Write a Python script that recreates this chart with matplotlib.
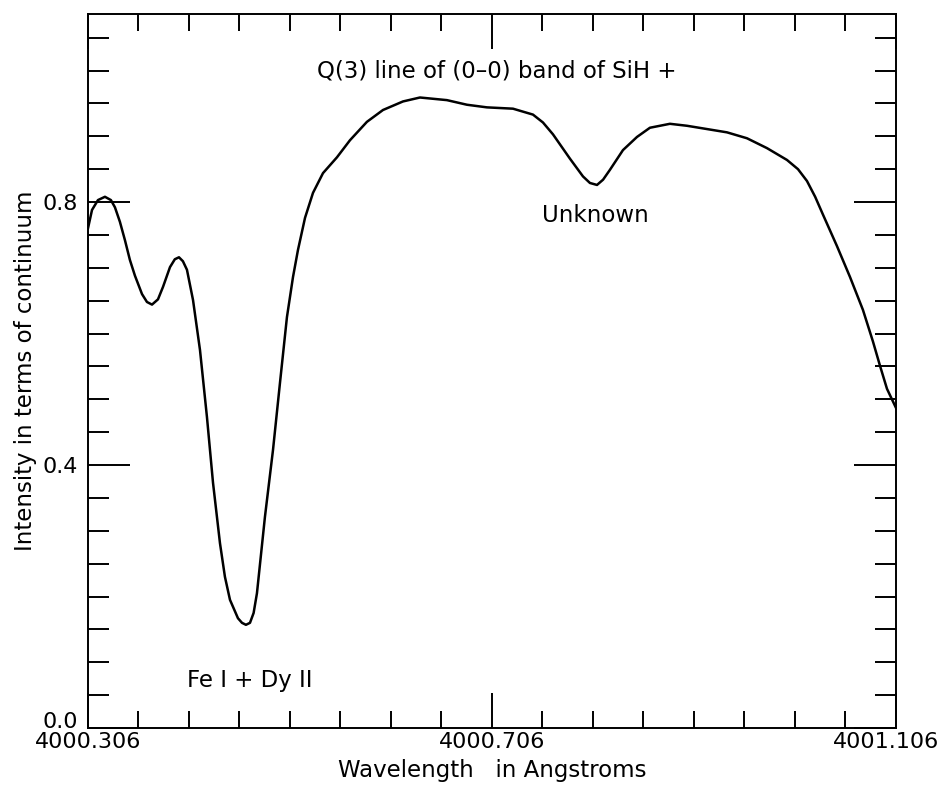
import numpy as np
import matplotlib
matplotlib.use("Agg")
import matplotlib.pyplot as plt
import matplotlib.transforms as mtransforms
from matplotlib.ticker import FixedLocator, FixedFormatter

# ── 数据 ────────────────────────────────────────
X0 = 4000.306
X1 = 4001.106
# 波长偏移 (Å, 相对 4000.306)
wl_offset = [
    0.0000, 0.0040, 0.0099, 0.0168, 0.0227, 0.0267, 0.0316, 0.0366, 0.0415,
    0.0465, 0.0535, 0.0584, 0.0634, 0.0693, 0.0743, 0.0812, 0.0860, 0.0901,
    0.0940, 0.0980, 0.1040, 0.1109, 0.1178, 0.1238, 0.1307, 0.1356, 0.1406,
    0.1485, 0.1525, 0.1564, 0.1604, 0.1640, 0.1673, 0.1752, 0.1832, 0.1901,
    0.1970, 0.2030, 0.2079, 0.2149, 0.2228, 0.2327, 0.2465, 0.2594, 0.2762,
    0.2921, 0.3119, 0.3287, 0.3554, 0.3752, 0.3950, 0.4208, 0.4406, 0.4505,
    0.4604, 0.4772, 0.4901, 0.4970, 0.5040, 0.5100, 0.5168, 0.5297, 0.5436,
    0.5564, 0.5762, 0.5931, 0.6129, 0.6327, 0.6525, 0.6723, 0.6921, 0.7030,
    0.7119, 0.7200, 0.7277, 0.7416, 0.7545, 0.7673, 0.7772, 0.7842, 0.7911,
    0.8000,
]
intensity = [
    0.760, 0.788, 0.803, 0.808, 0.803, 0.792, 0.770, 0.742, 0.712,
    0.688, 0.660, 0.648, 0.644, 0.652, 0.671, 0.701, 0.713, 0.716,
    0.710, 0.697, 0.651, 0.575, 0.473, 0.373, 0.281, 0.230, 0.195,
    0.167, 0.160, 0.157, 0.160, 0.175, 0.205, 0.321, 0.423, 0.525,
    0.625, 0.686, 0.727, 0.776, 0.814, 0.844, 0.868, 0.894, 0.922,
    0.940, 0.953, 0.959, 0.955, 0.948, 0.944, 0.942, 0.933, 0.921,
    0.903, 0.866, 0.839, 0.829, 0.826, 0.834, 0.849, 0.879, 0.899,
    0.913, 0.919, 0.916, 0.911, 0.906, 0.897, 0.882, 0.864, 0.850,
    0.832, 0.808, 0.781, 0.733, 0.686, 0.636, 0.588, 0.551, 0.516,
    0.487,
]
x_tick_labels = ["4000.306", "4000.706", "4001.106"]
y_major = [0.0, 0.4, 0.8]
y_tick_labels = ["0.0", "0.4", "0.8"]

# 标注
annotations = [
    ("Q(3) line of (0\u20130) band of SiH +", 0.405, 1.000),
    ("Unknown", 0.502, 0.780),
    ("Fe I + Dy II", 0.1604, 0.073),
]

wl = X0 + np.array(wl_offset)
FS = 16.5

# ── 绘图 ───────────────────────────────────────────────
plt.rcParams["font.family"] = ["DejaVu Sans"]
fig = plt.figure(figsize=(9.46, 7.91), dpi=100)
ax = fig.add_axes([0.0930, 0.0796, 0.8541, 0.9027])

ax.plot(wl, intensity, color="black", linewidth=1.8)

ax.set_xlim(X0, X1)
ax.set_ylim(0.0, 1.086)

x_major = [X0, X0 + 0.4, X1]
ax.xaxis.set_major_locator(FixedLocator(x_major))
ax.xaxis.set_major_formatter(FixedFormatter(x_tick_labels))
ax.xaxis.set_minor_locator(FixedLocator(np.linspace(X0, X1, 17)))
ax.yaxis.set_major_locator(FixedLocator(y_major))
ax.yaxis.set_major_formatter(FixedFormatter(y_tick_labels))
ax.yaxis.set_minor_locator(FixedLocator(np.arange(0, 1.09, 0.05)))

ax.tick_params(axis="both", which="both", direction="in",
               top=True, right=True, width=1.4, colors="black",
               labelsize=FS - 0.5)
ax.tick_params(axis="x", which="major", length=25, pad=3)
ax.tick_params(axis="x", which="minor", length=12.5)
ax.tick_params(axis="y", which="major", length=30, pad=7)
ax.tick_params(axis="y", which="minor", length=15)
for s in ax.spines.values():
    s.set_linewidth(1.4)

# 微调端点标签位置："0.0" 上移，"4001.106" 左移
fig.canvas.draw()
lab0 = ax.yaxis.get_majorticklabels()[0]
lab0.set_transform(lab0.get_transform()
                   + mtransforms.ScaledTranslation(0, 6 / 72, fig.dpi_scale_trans))
labx = ax.xaxis.get_majorticklabels()[-1]
labx.set_transform(labx.get_transform()
                   + mtransforms.ScaledTranslation(-7 / 72, 0, fig.dpi_scale_trans))

for txt, dx, y in annotations:
    ax.text(X0 + dx, y, txt, ha="center", va="center", fontsize=FS)

ax.set_xlabel("Wavelength   in Angstroms", fontsize=FS, labelpad=5)
ax.set_ylabel("Intensity in terms of continuum", fontsize=FS, labelpad=4)

fig.savefig("out.png", dpi=100, facecolor="white")
